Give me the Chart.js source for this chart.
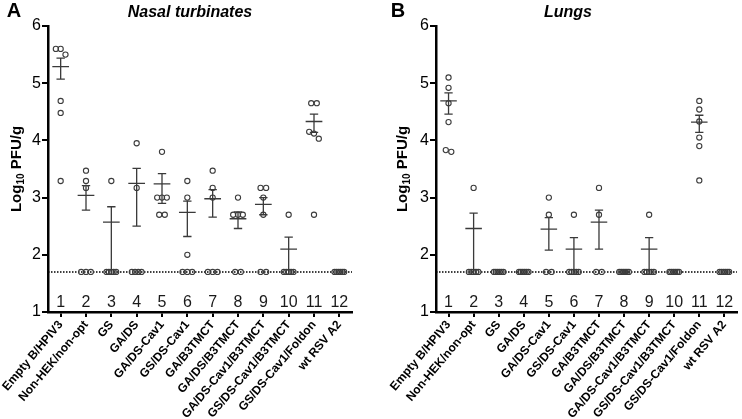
<!DOCTYPE html>
<html>
<head>
<meta charset="utf-8">
<script src="https://cdn.jsdelivr.net/npm/chart.js@4.4.0/dist/chart.umd.min.js"></script>
<style>
  html, body { margin: 0; padding: 0; background: #fff; }
  #wrap { position: relative; width: 742px; height: 419px; overflow: hidden; }
  canvas { position: absolute; top: 0; }
</style>
</head>
<body>
<div id="wrap">
  <canvas id="chartA" width="371" height="419" style="left:0"></canvas>
  <canvas id="chartB" width="371" height="419" style="left:371px"></canvas>
</div>
<script>
// groups on the x axis
const categories = ['Empty B/HPIV3', 'Non-HEK/non-opt', 'GS', 'GA/DS', 'GA/DS-Cav1', 'GS/DS-Cav1',
  'GA/B3TMCT', 'GA/DS/B3TMCT', 'GA/DS-Cav1/B3TMCT', 'GS/DS-Cav1/B3TMCT', 'GS/DS-Cav1/Foldon', 'wt RSV A2'];
const groupNumbers = ['1', '2', '3', '4', '5', '6', '7', '8', '9', '10', '11', '12'];
const yTicks = [1, 2, 3, 4, 5, 6];
const LOD = 1.7; // limit of detection (dotted line)

// nasal turbinates, log10 PFU/g per animal
const nasalValues = [
  [5.6, 5.6, 5.5, 4.69, 4.48, 3.29],
  [3.47, 3.29, 3.17, 1.7, 1.7, 1.7],
  [3.29, 1.7, 1.7, 1.7, 1.7, 1.7],
  [3.95, 3.17, 1.7, 1.7, 1.7, 1.7],
  [3.8, 3.0, 3.0, 3.0, 2.7, 2.7],
  [3.29, 3.0, 2.0, 1.7, 1.7, 1.7],
  [3.47, 3.17, 3.0, 1.7, 1.7, 1.7],
  [3.0, 2.7, 2.7, 2.7, 1.7, 1.7],
  [3.17, 3.17, 3.0, 2.7, 1.7, 1.7],
  [2.7, 1.7, 1.7, 1.7, 1.7, 1.7],
  [4.65, 4.65, 4.15, 4.12, 4.03, 2.7],
  [1.7, 1.7, 1.7, 1.7, 1.7, 1.7]
];
const nasalMean  = [5.29, 3.04, 2.57, 3.25, 3.24, 2.74, 2.98, 2.63, 2.88, 2.10, 4.33, null];
const nasalUpper = [5.44, 3.21, 2.84, 3.51, 3.42, 2.94, 3.14, 2.75, 3.00, 2.31, 4.46, null];
const nasalLower = [5.07, 2.78, 1.70, 2.50, 2.90, 2.32, 2.66, 2.46, 2.70, 1.70, 4.14, null];

// lungs, log10 PFU/g per animal
const lungValues = [
  [5.1, 4.92, 4.65, 4.32, 3.83, 3.8],
  [3.17, 1.7, 1.7, 1.7, 1.7, 1.7],
  [1.7, 1.7, 1.7, 1.7, 1.7, 1.7],
  [1.7, 1.7, 1.7, 1.7, 1.7, 1.7],
  [3.0, 2.7, 1.7, 1.7],
  [2.7, 1.7, 1.7, 1.7, 1.7, 1.7],
  [3.17, 2.7, 1.7, 1.7],
  [1.7, 1.7, 1.7, 1.7, 1.7, 1.7],
  [2.7, 1.7, 1.7, 1.7, 1.7, 1.7],
  [1.7, 1.7, 1.7, 1.7, 1.7, 1.7],
  [4.69, 4.54, 4.33, 4.05, 3.9, 3.3],
  [1.7, 1.7, 1.7, 1.7, 1.7, 1.7]
];
const lungMean  = [4.69, 2.46, null, null, 2.45, 2.10, 2.57, null, 2.10, null, 4.32, null];
const lungUpper = [4.83, 2.73, null, null, 2.65, 2.30, 2.78, null, 2.30, null, 4.44, null];
const lungLower = [4.46, 1.70, null, null, 2.08, 1.70, 2.10, null, 1.70, null, 4.14, null];

const FONT = "'Liberation Sans', Arial, sans-serif";

// side-by-side placement of points that sit on (almost) the same value
function spreadPoints(groups) {
  const pts = [];
  groups.forEach(function(vals, i) {
    const sorted = vals.slice().sort(function(a, b) { return b - a; });
    let k = 0;
    while (k < sorted.length) {
      let j = k + 1;
      while (j < sorted.length && sorted[j - 1] - sorted[j] < 0.12) j++;
      const n = j - k;
      const spread = n === 1 ? 0 : (n === 2 ? 0.22 : 0.38);
      for (let m = 0; m < n; m++) {
        const off = n === 1 ? 0 : -spread / 2 + spread * m / (n - 1);
        pts.push({ x: i + 1 + off, y: sorted[k + m] });
      }
      k = j;
    }
  });
  return pts;
}

const panels = {
  chartA: { letter: 'A', letterX: 14, title: 'Nasal turbinates', titleX: 190, yTitleX: 16,
            axisLeft: 48, padRight: 19, values: nasalValues, mean: nasalMean, upper: nasalUpper, lower: nasalLower },
  chartB: { letter: 'B', letterX: 27, title: 'Lungs', titleX: 197, yTitleX: 31,
            axisLeft: 65, padRight: 0, values: lungValues, mean: lungMean, upper: lungUpper, lower: lungLower }
};

const panelDecor = {
  id: 'panelDecor',
  afterDatasetsDraw(chart) {
    const p = panels[chart.canvas.id];
    const ctx = chart.ctx, xs = chart.scales.x, ys = chart.scales.y;
    const halfMean = xs.getPixelForValue(1.33) - xs.getPixelForValue(1);
    const halfCap = xs.getPixelForValue(1.165) - xs.getPixelForValue(1);
    ctx.save();
    ctx.strokeStyle = '#3a3a3a';
    ctx.lineWidth = 1.3;
    p.mean.forEach(function(m, i) {
      if (m === null) return;
      const cx = xs.getPixelForValue(i + 1);
      const yM = ys.getPixelForValue(m);
      const yH = ys.getPixelForValue(p.upper[i]);
      const yL = ys.getPixelForValue(p.lower[i]);
      ctx.beginPath();
      ctx.moveTo(cx - halfMean, yM); ctx.lineTo(cx + halfMean, yM);
      ctx.moveTo(cx, yH); ctx.lineTo(cx, yL);
      ctx.moveTo(cx - halfCap, yH); ctx.lineTo(cx + halfCap, yH);
      if (p.lower[i] > LOD) { ctx.moveTo(cx - halfCap, yL); ctx.lineTo(cx + halfCap, yL); }
      ctx.stroke();
    });
    ctx.restore();
  },
  afterDraw(chart) {
    const p = panels[chart.canvas.id];
    const ctx = chart.ctx, xs = chart.scales.x, area = chart.chartArea;
    ctx.save();
    ctx.fillStyle = '#000';

    // panel letter and title
    ctx.textAlign = 'center';
    ctx.textBaseline = 'alphabetic';
    ctx.font = 'bold 20px ' + FONT;
    ctx.fillText(p.letter, p.letterX, 17);
    ctx.font = 'italic bold 16px ' + FONT;
    ctx.fillText(p.title, p.titleX, 17);

    // group numbers above the x axis
    ctx.font = '16px ' + FONT;
    ctx.fillStyle = '#1a1a1a';
    groupNumbers.forEach(function(g, i) {
      ctx.fillText(g, xs.getPixelForValue(i + 1), area.bottom - 5);
    });

    // y title with subscript
    ctx.fillStyle = '#000';
    const big = 'bold 15px ' + FONT, small = 'bold 10px ' + FONT;
    ctx.font = big;
    const w1 = ctx.measureText('Log').width, w3 = ctx.measureText(' PFU/g').width;
    ctx.font = small;
    const w2 = ctx.measureText('10').width;
    const total = w1 + w2 + w3;
    ctx.translate(p.yTitleX + 5, (area.top + area.bottom) / 2);
    ctx.rotate(-Math.PI / 2);
    ctx.textAlign = 'left';
    let x0 = -total / 2;
    ctx.font = big;
    ctx.fillText('Log', x0, 0);
    ctx.font = small;
    ctx.fillText('10', x0 + w1, 3);
    ctx.font = big;
    ctx.fillText(' PFU/g', x0 + w1 + w2, 0);
    ctx.restore();
  }
};

function buildPanel(id) {
  const p = panels[id];
  return new Chart(document.getElementById(id), {
    type: 'scatter',
    data: {
      datasets: [
        {
          type: 'line',
          data: [{ x: 0.5, y: LOD }, { x: 12.5, y: LOD }],
          borderColor: '#000', borderWidth: 1.5, borderDash: [1.5, 1.5],
          pointRadius: 0, order: 2
        },
        {
          data: spreadPoints(p.values),
          pointRadius: 2.6, pointBorderWidth: 1.1,
          pointBorderColor: '#3c3c3c', pointBackgroundColor: 'rgba(255,255,255,0)',
          order: 1
        }
      ]
    },
    options: {
      responsive: false,
      animation: false,
      devicePixelRatio: 1,
      layout: { padding: { top: 26, right: p.padRight, left: 0, bottom: 0 } },
      plugins: { legend: { display: false }, tooltip: { enabled: false } },
      scales: {
        x: {
          type: 'linear', min: 0.5, max: 12.5,
          afterBuildTicks: function(s) { s.ticks = categories.map(function(c, i) { return { value: i + 1 }; }); },
          afterFit: function(s) { s.height = 107; s.paddingLeft = 0; s.paddingRight = 0; },
          ticks: {
            autoSkip: false, minRotation: 50, maxRotation: 50, padding: 1, color: '#000',
            font: { family: FONT, size: 12, weight: 'bold' },
            callback: function(v, i) { return categories[i]; }
          },
          grid: { drawOnChartArea: false, drawTicks: true, tickLength: 5, color: '#000', lineWidth: 2 },
          border: { color: '#000', width: 2.5 }
        },
        y: {
          min: 1, max: 6,
          afterBuildTicks: function(s) { s.ticks = yTicks.map(function(v) { return { value: v }; }); },
          afterFit: function(s) { s.width = p.axisLeft; },
          ticks: { padding: 1, color: '#000', font: { family: FONT, size: 16 } },
          grid: { drawOnChartArea: false, tickLength: 6, color: '#000', lineWidth: 2 },
          border: { color: '#000', width: 2.5 }
        }
      }
    },
    plugins: [panelDecor]
  });
}

buildPanel('chartA');
buildPanel('chartB');
</script>
</body>
</html>
